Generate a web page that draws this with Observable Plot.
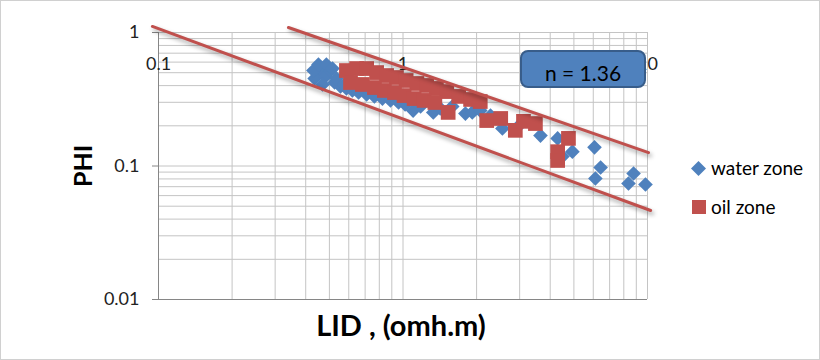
<!DOCTYPE html>
<html>
<head>
<meta charset="utf-8">
<script src="https://cdn.jsdelivr.net/npm/d3@7"></script>
<script src="https://cdn.jsdelivr.net/npm/@observablehq/plot@0.6"></script>
<style>
  body { margin: 0; background: #fff; }
  #wrap { position: relative; width: 820px; height: 360px; overflow: hidden; font-family: Lato, "Open Sans", sans-serif; }
  #frame { position: absolute; left: 0; top: 0; width: 818px; height: 358px; border: 1px solid #d0d0d0; pointer-events: none; }
  .ttl { position: absolute; font-weight: bold; color: #000; white-space: nowrap; line-height: 1; }
  #nbox { position: absolute; left: 520px; top: 50px; width: 122px; height: 34px; background: #4f81bd; border: 2px solid #385d8a; border-radius: 8px; box-sizing: content-box; }
  #nbox span { position: absolute; left: 0; right: 0; top: 10px; text-align: center; font-size: 21px; line-height: 1; color: #000; }
  .leg { position: absolute; font-size: 19px; line-height: 22px; color: #000; white-space: nowrap; }
</style>
</head>
<body>
<div id="wrap"></div>
<script>
// ---- data ----
const waterX = [0.443, 0.460, 0.435, 0.482, 0.505, 0.469, 0.525, 0.555, 0.587, 0.621, 0.658, 0.710, 0.764, 0.824, 0.889, 0.959, 1.02, 1.10, 1.18, 1.33, 1.42, 1.59, 1.80, 1.92, 2.07, 2.28, 2.55, 2.96, 3.65, 4.29, 4.49, 4.93, 6.07, 6.43, 6.12, 8.77, 8.36, 9.81,
                0.430, 0.451, 0.486, 0.515, 0.535, 0.577];
const waterY = [0.501, 0.537, 0.452, 0.468, 0.519, 0.408, 0.422, 0.394, 0.381, 0.368, 0.355, 0.343, 0.332, 0.320, 0.310, 0.299, 0.289, 0.260, 0.279, 0.252, 0.270, 0.279, 0.247, 0.252, 0.260, 0.239, 0.191, 0.198, 0.169, 0.161, 0.118, 0.128, 0.138, 0.0975, 0.0806, 0.0879, 0.0740, 0.0727,
                0.519, 0.576, 0.576, 0.537, 0.452, 0.408];

const oilX = [0.587, 0.646, 0.710, 0.780, 0.857, 0.940, 1.03, 1.14, 1.25, 1.37, 1.51, 1.69, 1.89, 2.07,
              0.610, 0.682, 0.764, 0.839, 0.923, 1.01, 1.11, 1.22, 1.35,
              1.53, 2.20, 2.51, 2.88, 3.11, 3.48, 4.29, 4.29, 4.75];
const oilY = [0.519, 0.537, 0.537, 0.501, 0.476, 0.460, 0.437, 0.415, 0.401, 0.381, 0.361, 0.332, 0.315, 0.304,
              0.422, 0.408, 0.387, 0.368, 0.355, 0.337, 0.320, 0.310, 0.299,
              0.252, 0.219, 0.227, 0.185, 0.216, 0.208, 0.128, 0.110, 0.161];

const upperLineX = [0.340, 10.1];
const upperLineY = [1.09, 0.126];
const lowerLineX = [0.0944, 10.3];
const lowerLineY = [1.11, 0.0464];

const xTickLabels = [0.1, 1, 10];
const yTickLabels = [1, 0.1, 0.01];
const xGridVals = [0.1,0.2,0.3,0.4,0.5,0.6,0.7,0.8,0.9,1,2,3,4,5,6,7,8,9,10];
const yGridVals = [0.01,0.02,0.03,0.04,0.05,0.06,0.07,0.08,0.09,0.1,0.2,0.3,0.4,0.5,0.6,0.7,0.8,0.9,1];

const seriesNames = ["water zone", "oil zone"];
const annotation = "n = 1.36";
const xTitle = "LID , (omh.m)";
const yTitle = "PHI";

// ---- build ----
const water = waterX.map((x, i) => ({x, y: waterY[i]}));
const oil = oilX.map((x, i) => ({x, y: oilY[i]}));
const upper = upperLineX.map((x, i) => ({x, y: upperLineY[i]}));
const lower = lowerLineX.map((x, i) => ({x, y: lowerLineY[i]}));

const blue = "#4f81bd", red = "#c0504d";

const chart = Plot.plot({
  width: 820, height: 360,
  marginLeft: 158, marginRight: 173, marginTop: 32, marginBottom: 61,
  x: {type: "log", domain: [0.1, 10]},
  y: {type: "log", domain: [0.01, 1]},
  style: {fontFamily: "Lato, 'Open Sans', sans-serif", fontSize: "18px", color: "#000", background: "transparent", overflow: "visible"},
  marks: [
    Plot.gridX(xGridVals, {stroke: "#c4c4c4", strokeOpacity: 1}),
    Plot.gridY(yGridVals, {stroke: "#c4c4c4", strokeOpacity: 1}),
    Plot.ruleX([0.1], {stroke: "#868686"}),
    Plot.ruleY([0.01], {stroke: "#868686"}),
    Plot.axisY(yTickLabels, {tickSize: 6, tickPadding: 13, stroke: "#868686", tickFormat: d => String(d), label: null, fontSize: 18, fill: "#222"}),
    Plot.axisX(xTickLabels, {anchor: "top", tickSize: 0, dy: 46, tickFormat: d => String(d), label: null, fontSize: 18, fill: "#222"}),
    Plot.dot(water, {x: "x", y: "y", symbol: "diamond2", r: 6.6, fill: blue, stroke: "none"}),
    Plot.dot(oil, {x: "x", y: "y", symbol: "square", r: 8.3, fill: red, stroke: "none"}),
    Plot.line(upper, {x: "x", y: "y", stroke: red, strokeWidth: 3}),
    Plot.line(lower, {x: "x", y: "y", stroke: red, strokeWidth: 3})
  ]
});

d3.select(chart).selectAll('g[aria-label="line"]').style("filter", "drop-shadow(2px 3px 2px rgba(0,0,0,0.35))");

const wrap = document.getElementById("wrap");
wrap.appendChild(chart);

const box = document.createElement("div");
box.id = "nbox";
box.innerHTML = `<span>${annotation}</span>`;
wrap.appendChild(box);

const xt = document.createElement("div");
xt.className = "ttl";
xt.textContent = xTitle;
xt.style.fontSize = "29px";
xt.style.left = "401px"; xt.style.top = "324px"; xt.style.transform = "translate(-50%,-50%)";
wrap.appendChild(xt);

const yt = document.createElement("div");
yt.className = "ttl";
yt.textContent = yTitle;
yt.style.fontSize = "25px";
yt.style.left = "82px"; yt.style.top = "166px"; yt.style.transform = "translate(-50%,-50%) rotate(-90deg)";
wrap.appendChild(yt);

// legend
const legItems = [
  {name: seriesNames[0], y: 168, sym: `<svg width="15" height="15" style="position:absolute;left:-20px;top:4px"><polygon points="7.5,0 15,7.5 7.5,15 0,7.5" fill="${blue}"/></svg>`},
  {name: seriesNames[1], y: 207, sym: `<svg width="14" height="14" style="position:absolute;left:-19px;top:4px"><rect width="14" height="14" fill="${red}"/></svg>`}
];
legItems.forEach(it => {
  const d = document.createElement("div");
  d.className = "leg";
  d.style.left = "711px";
  d.style.top = (it.y - 11) + "px";
  d.innerHTML = it.sym + `<span>${it.name}</span>`;
  wrap.appendChild(d);
});

const fr = document.createElement("div");
fr.id = "frame";
wrap.appendChild(fr);
</script>
</body>
</html>
